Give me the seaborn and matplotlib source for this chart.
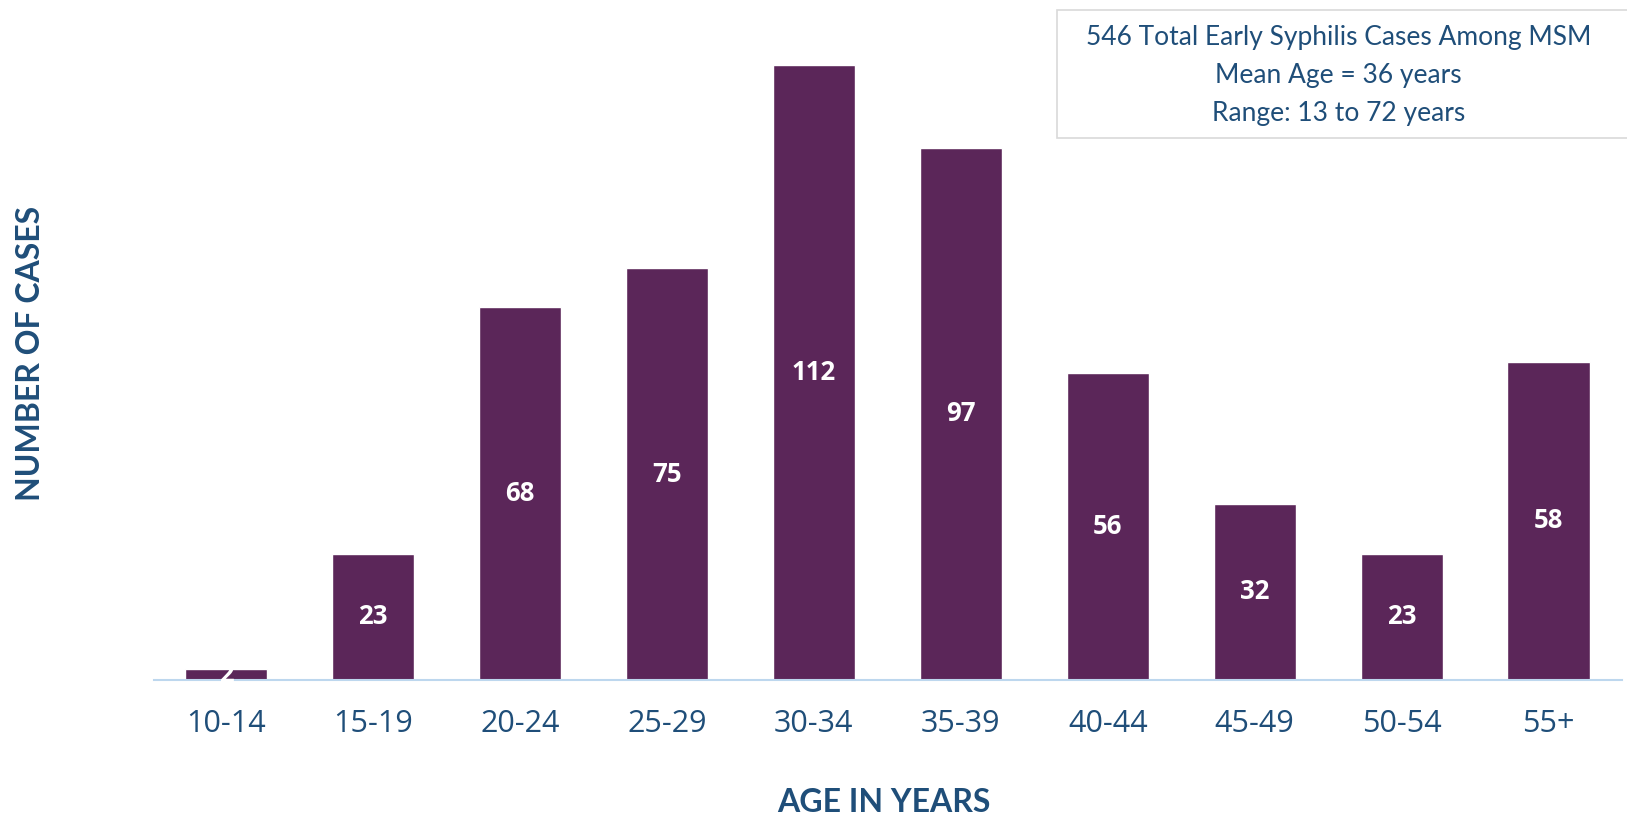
import matplotlib
matplotlib.use("Agg")
import matplotlib.pyplot as plt
from matplotlib.patches import Rectangle
import seaborn as sns
import pandas as pd

age_groups = ["10-14", "15-19", "20-24", "25-29", "30-34", "35-39", "40-44", "45-49", "50-54", "55+"]
cases = [2, 23, 68, 75, 112, 97, 56, 32, 23, 58]
info_lines = ["546 Total Early Syphilis Cases Among MSM", "Mean Age = 36 years", "Range: 13 to 72 years"]

sns.set_theme(style="white")
plt.rcParams['font.family'] = ['Lato', 'DejaVu Sans']

bar_color = "#5B2659"
text_color = "#1F4E79"

df = pd.DataFrame({"age": age_groups, "cases": cases})

fig = plt.figure(figsize=(16.27, 8.21), dpi=100)
ax = fig.add_axes([0.0947, 0.172, 0.9023, 0.802])

sns.barplot(data=df, x="age", y="cases", color=bar_color, saturation=1, width=0.56, ax=ax)

ax.set_xlim(-0.49, 9.5)
ax.set_ylim(0, 120)

for c in ax.containers:
    ax.bar_label(c, label_type="center", color="white", fontweight="bold", fontsize=18.5,
                 fontfamily=['Open Sans', 'DejaVu Sans'])

for s in ["top", "right", "left"]:
    ax.spines[s].set_visible(False)
ax.spines["bottom"].set_color("#BDD7EE")
ax.spines["bottom"].set_linewidth(1.5)
ax.set_yticks([])
ax.tick_params(axis="x", length=0, pad=21, labelsize=22, labelcolor=text_color)
for t in ax.get_xticklabels():
    t.set_fontfamily(['Open Sans', 'DejaVu Sans'])
ax.set_xlabel("")
ax.set_ylabel("")

fig.text(0.543, 0.022, "AGE IN YEARS", ha="center", va="center", fontsize=23,
         fontweight="bold", color=text_color)
fig.text(0.019, 0.570, "NUMBER OF CASES", ha="center", va="center", rotation=90,
         fontsize=23, fontweight="bold", color=text_color)

fig.patches.append(Rectangle((0.6497, 0.832), 0.36, 0.156, transform=fig.transFigure,
                             facecolor="white", edgecolor="#D9D9D9", linewidth=1.2, zorder=3))
fig.text(0.8225, 0.9086, "\n".join(info_lines), ha="center", va="center", fontsize=19,
         color=text_color, linespacing=1.65, zorder=4)

fig.savefig("out.png", dpi=100)
